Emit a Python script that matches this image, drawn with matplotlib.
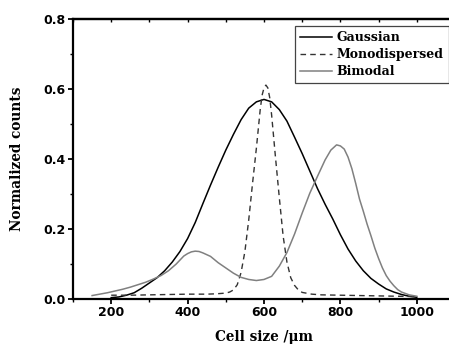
import matplotlib
matplotlib.use("Agg")
import matplotlib.pyplot as plt
from matplotlib.ticker import MultipleLocator

# ---- data ----
gauss_x = [200, 220, 240, 260, 280, 300, 320, 340, 360, 380, 400, 420, 440, 460, 480, 500,
           520, 540, 560, 580, 600, 620, 640, 660, 680, 700, 720, 740, 760, 780, 800, 820,
           840, 860, 880, 900, 920, 940, 960, 980, 1000]
gauss_y = [0.003, 0.005, 0.010, 0.017, 0.030, 0.045, 0.060, 0.080, 0.105, 0.135, 0.172,
           0.218, 0.272, 0.325, 0.376, 0.425, 0.470, 0.512, 0.545, 0.563, 0.570, 0.563,
           0.541, 0.508, 0.462, 0.415, 0.365, 0.315, 0.270, 0.228, 0.183, 0.142, 0.108,
           0.080, 0.058, 0.042, 0.028, 0.019, 0.012, 0.007, 0.004]

mono_x = [200, 250, 300, 350, 400, 450, 475, 500, 510, 520, 530, 540, 550, 560, 570, 580, 590,
          595, 600, 605, 610, 615, 620, 630, 640, 650, 660, 670, 680, 690, 700, 725, 750, 800,
          850, 900, 950, 1000]
mono_y = [0.010, 0.010, 0.011, 0.012, 0.013, 0.013, 0.014, 0.016, 0.019, 0.025, 0.040, 0.075,
          0.135, 0.225, 0.330, 0.430, 0.540, 0.582, 0.603, 0.611, 0.603, 0.575, 0.525, 0.405,
          0.290, 0.180, 0.105, 0.060, 0.038, 0.025, 0.018, 0.013, 0.011, 0.010, 0.009, 0.008,
          0.007, 0.006]

bi_x = [150, 170, 190, 210, 230, 250, 270, 290, 310, 330, 350, 370, 390, 400, 410, 420, 430,
        440, 460, 480, 500, 520, 540, 560, 580, 600, 620, 640, 660, 680, 700, 720, 740, 760,
        775, 790, 800, 810, 820, 830, 840, 850, 860, 870, 880, 890, 900, 910, 920, 930, 940,
        950, 960, 980, 1000]
bi_y = [0.009, 0.013, 0.017, 0.022, 0.027, 0.033, 0.040, 0.047, 0.056, 0.066, 0.080, 0.099,
        0.122, 0.129, 0.134, 0.136, 0.135, 0.131, 0.121, 0.103, 0.088, 0.073, 0.061, 0.055,
        0.052, 0.055, 0.064, 0.093, 0.132, 0.185, 0.245, 0.302, 0.350, 0.397, 0.425, 0.440,
        0.437, 0.428, 0.405, 0.372, 0.330, 0.285, 0.250, 0.213, 0.180, 0.145, 0.115, 0.088,
        0.066, 0.050, 0.037, 0.026, 0.019, 0.011, 0.007]

series_names = ["Gaussian", "Monodispersed", "Bimodal"]
x_ticks = [200, 400, 600, 800, 1000]
y_ticks = [0.0, 0.2, 0.4, 0.6, 0.8]

W, H = 449, 347
fig = plt.figure(figsize=(W / 100, H / 100), dpi=100)
ax = fig.add_axes([73 / W, (H - 298.7) / H, (455 - 73) / W, (298.7 - 19) / H])

ax.plot(gauss_x, gauss_y, color="black", lw=1.1, label=series_names[0])
ax.plot(mono_x, mono_y, color="#333333", lw=1.0, linestyle=(0, (4, 3)), label=series_names[1])
ax.plot(bi_x, bi_y, color="#808080", lw=1.1, label=series_names[2])

ax.set_xlim(100, 1100)
ax.set_ylim(0, 0.8)
ax.set_xticks(x_ticks)
ax.set_yticks(y_ticks)
ax.set_yticklabels([f"{v:.1f}" for v in y_ticks])
ax.xaxis.set_minor_locator(MultipleLocator(100))
ax.yaxis.set_minor_locator(MultipleLocator(0.1))

for s in ax.spines.values():
    s.set_linewidth(1.6)

ax.tick_params(which="major", direction="out", length=3.6, width=1.3, top=False, right=False,
               labelsize=9, pad=2)
ax.tick_params(which="minor", direction="out", length=2.2, width=1.0, top=False, right=False)
for lab in ax.get_xticklabels() + ax.get_yticklabels():
    lab.set_fontfamily("DejaVu Sans")
    lab.set_fontweight("bold")

# top ticks (inward, unlabeled)
axt = ax.secondary_xaxis("top")
axt.set_xticks(x_ticks)
axt.xaxis.set_minor_locator(MultipleLocator(100))
axt.tick_params(which="both", direction="in", length=2, width=1.0, labeltop=False)
axt.spines["top"].set_linewidth(1.6)

lab_font = dict(family="DejaVu Serif", weight="bold", size=9.8)
ax.set_xlabel("Cell size /\u03bcm", fontdict=lab_font)
ax.set_ylabel("Normalized counts", fontdict=lab_font)
ax.xaxis.set_label_coords(0.5, -0.112)
ax.yaxis.set_label_coords(-0.128, 0.5)

leg = ax.legend(loc="upper left", bbox_to_anchor=(0.581, 0.975), borderaxespad=0,
                prop=dict(family="DejaVu Serif", weight="bold", size=9),
                frameon=True, fancybox=False, edgecolor="#444444", framealpha=1,
                handlelength=2.6, handletextpad=0.35, borderpad=0.4, labelspacing=0.32)
leg.get_frame().set_linewidth(0.9)

fig.savefig("out.png", dpi=100)
